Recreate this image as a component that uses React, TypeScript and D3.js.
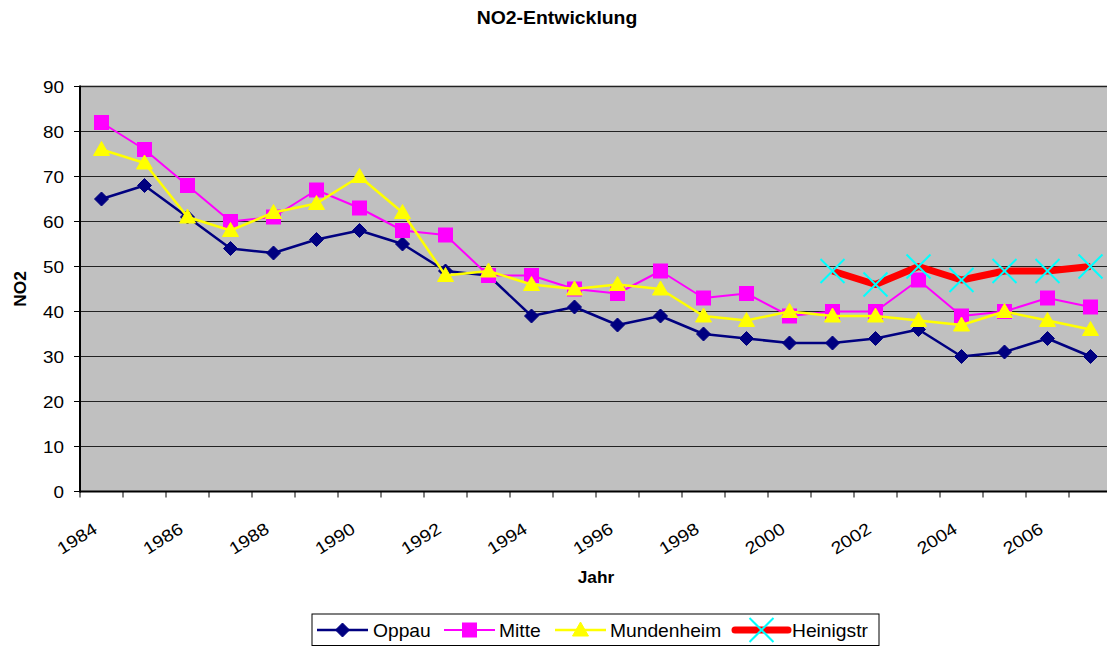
import React from "react";
import * as d3 from "d3";

const years: number[] = [1984,1985,1986,1987,1988,1989,1990,1991,1992,1993,1994,1995,1996,1997,1998,1999,2000,2001,2002,2003,2004,2005,2006,2007];
const oppau: number[] = [65,68,61,54,53,56,58,55,49,48,39,41,37,39,35,34,33,33,34,36,30,31,34,30];
const mitte: number[] = [82,76,68,60,61,67,63,58,57,48,48,45,44,49,43,44,39,40,40,47,39,40,43,41];
const mundenheim: number[] = [76,73,61,58,62,64,70,62,48,49,46,45,46,45,39,38,40,39,39,38,37,40,38,36];
const heinigstr: (number | null)[] = [null,null,null,null,null,null,null,null,null,null,null,null,null,null,null,null,null,49,46,50,47,49,49,50];
const yTicks: number[] = [0,10,20,30,40,50,60,70,80,90];
const xLabelYears: number[] = [1984,1986,1988,1990,1992,1994,1996,1998,2000,2002,2004,2006];

const FONT = "'Liberation Sans', Arial, Helvetica, sans-serif";

function T(props: { x: number; y: number; r?: number; sx?: number; size: number; bold?: boolean; anchor?: string; children: React.ReactNode }) {
  const { x, y, r = 0, sx = 1, size, bold, anchor = "start", children } = props;
  return (
    <g transform={`translate(${x},${y}) rotate(${r}) scale(${sx},1)`}>
      <text x={0} y={0} fontFamily={FONT} fontSize={size} fontWeight={bold ? "bold" : "normal"} textAnchor={anchor} fill="#000">
        {children}
      </text>
    </g>
  );
}

function Diamond({ x, y }: { x: number; y: number }) {
  const s = 7;
  return <path d={`M${x},${y - s}L${x + s},${y}L${x},${y + s}L${x - s},${y}Z`} fill="#000080" stroke="#000080" strokeWidth={1} />;
}
function Square({ x, y }: { x: number; y: number }) {
  const s = 7;
  return <rect x={x - s} y={y - s} width={2 * s} height={2 * s} fill="#ff00ff" stroke="#ff00ff" strokeWidth={1} />;
}
function Triangle({ x, y }: { x: number; y: number }) {
  return <path d={`M${x},${y - 8}L${x + 8},${y + 6}L${x - 8},${y + 6}Z`} fill="#ffff00" stroke="#ffff00" strokeWidth={1} />;
}
function Cross({ x, y }: { x: number; y: number }) {
  const s = 12;
  return (
    <g stroke="#00ffff" strokeWidth={2}>
      <line x1={x - s} y1={y - s} x2={x + s} y2={y + s} />
      <line x1={x - s} y1={y + s} x2={x + s} y2={y - s} />
    </g>
  );
}

export default function App() {
  const left = 80, right = 1112, top = 86.5, bottom = 491.5;
  const x = d3.scaleBand<number>().domain(years).range([left, right]).padding(0);
  const cx = (yr: number) => (x(yr) as number) + x.bandwidth() / 2;
  const y = d3.scaleLinear().domain([0, 90]).range([bottom, top]);

  const line = d3
    .line<number | null>()
    .defined((d) => d !== null)
    .x((_, i) => cx(years[i]))
    .y((d) => y(d as number));

  const series = [
    { name: "Oppau", data: oppau as (number | null)[], color: "#000080", width: 2.5, M: Diamond },
    { name: "Mitte", data: mitte as (number | null)[], color: "#ff00ff", width: 2, M: Square },
    { name: "Mundenheim", data: mundenheim as (number | null)[], color: "#ffff00", width: 2.5, M: Triangle },
    { name: "Heinigstr", data: heinigstr, color: "#ff0000", width: 7, M: Cross },
  ];

  const boundaries = d3.range(years.length + 1).map((k) => left + k * x.bandwidth());

  const legendItems = [
    { s: series[0], x1: 317, x2: 368, tx: 373 },
    { s: series[1], x1: 444, x2: 495, tx: 499 },
    { s: series[2], x1: 555, x2: 606, tx: 610 },
    { s: series[3], x1: 735, x2: 788, tx: 792 },
  ];

  return (
    <svg width={1107} height={648} style={{ position: "absolute", left: 0, top: 0, background: "#fff" }}>
      <rect x={0} y={0} width={1107} height={648} fill="#fff" />
      <T x={557} y={24} size={18.5} bold anchor="middle" sx={1.05}>NO2-Entwicklung</T>

      {/* plot area */}
      <rect x={left} y={top} width={right - left} height={bottom - top} fill="#c0c0c0" />
      <line x1={left} x2={right} y1={top} y2={top} stroke="#808080" strokeWidth={2} />
      {yTicks.filter((t) => t > 0).map((t) => (
        <line key={t} x1={left} x2={right} y1={y(t)} y2={y(t)} stroke="#222" strokeWidth={1} />
      ))}

      {/* series */}
      {series.map((s) => (
        <g key={s.name}>
          <path d={line(s.data) || ""} fill="none" stroke={s.color} strokeWidth={s.width} strokeLinejoin="round" />
          {s.data.map((v, i) => (v === null ? null : <s.M key={i} x={cx(years[i])} y={y(v)} />))}
        </g>
      ))}

      {/* axes */}
      <line x1={left} x2={left} y1={top - 1} y2={bottom + 1} stroke="#000" strokeWidth={2} />
      <line x1={left} x2={right} y1={bottom} y2={bottom} stroke="#000" strokeWidth={2} />
      {yTicks.map((t) => (
        <g key={t}>
          <line x1={74} x2={left} y1={y(t)} y2={y(t)} stroke="#000" strokeWidth={1} />
          <T x={64} y={y(t) + 6} size={16} anchor="end" sx={1.18}>{t}</T>
        </g>
      ))}
      {boundaries.map((b, k) => (
        <line key={k} x1={b} x2={b} y1={bottom} y2={bottom + 6} stroke="#000" strokeWidth={1} />
      ))}
      {xLabelYears.map((yr) => (
        <T key={yr} x={cx(yr) - 3} y={532} r={-32} size={17} anchor="end" sx={1.15}>{yr}</T>
      ))}

      <T x={596} y={583} size={16} bold anchor="middle" sx={1.08}>Jahr</T>
      <T x={26} y={289} r={-90} size={16} bold anchor="middle" sx={1.08}>NO2</T>

      {/* legend */}
      <rect x={312} y={614} width={567} height={31.5} fill="#fff" stroke="#000" strokeWidth={1} />
      {legendItems.map(({ s, x1, x2, tx }) => (
        <g key={s.name}>
          <line x1={x1} x2={x2} y1={630} y2={630} stroke={s.color} strokeWidth={s.width} strokeLinecap={s.name === "Heinigstr" ? "round" : "butt"} />
          <s.M x={(x1 + x2) / 2} y={630} />
          <T x={tx} y={636.5} size={17.5} sx={1.1}>{s.name}</T>
        </g>
      ))}
    </svg>
  );
}
